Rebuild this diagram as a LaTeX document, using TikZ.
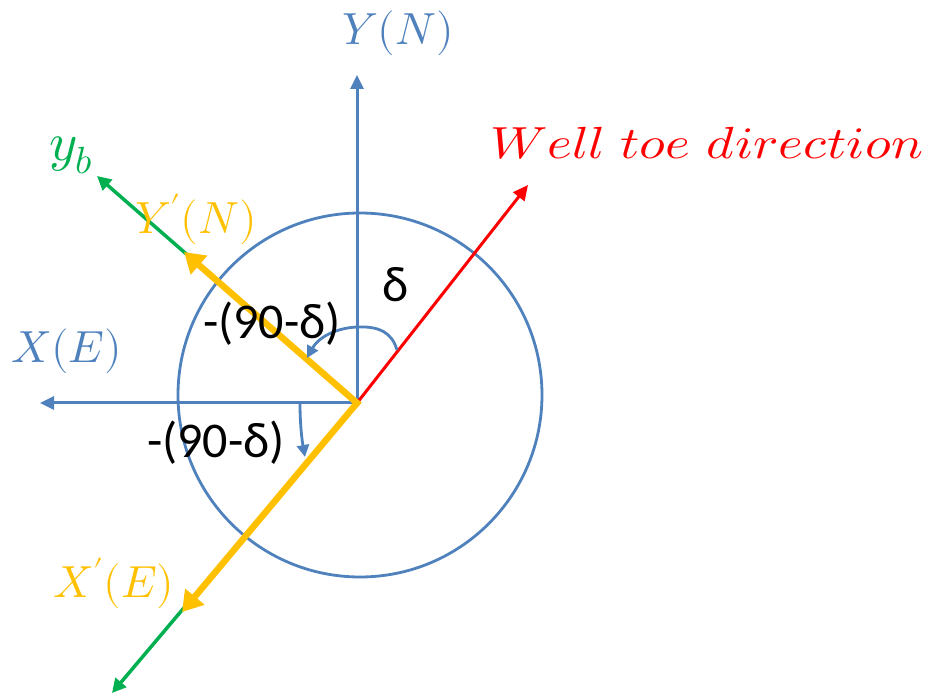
\documentclass[tikz,border=0pt]{standalone}
\usepackage{fontspec}
\usepackage{unicode-math}
\newfontfamily\calib{Carlito}
\usetikzlibrary{arrows.meta}
\definecolor{axblue}{RGB}{79,129,189}
\definecolor{axyel}{RGB}{255,192,0}
\definecolor{axgrn}{RGB}{0,176,80}

\begin{document}
\begin{tikzpicture}[
  x=1pt, y=-1pt,
  circ/.style={draw=axblue, line width=2.8pt},
  ax/.style={draw=axblue, line width=3pt, -{Triangle[length=14pt,width=13pt]}},
  toe/.style={draw=red, line width=3pt, -{Triangle[length=15pt,width=14pt]}},
  bax/.style={draw=axgrn, line width=3.5pt, -{Triangle[length=14pt,width=14pt]}},
  rax/.style={draw=axyel, line width=6.5pt, line cap=rect, -{Triangle[length=20pt,width=24pt]}},
  ang/.style={draw=axblue, line width=2.8pt, -{Triangle[length=12pt,width=12pt]}},
  mlab/.style={font=\fontsize{45}{48}\selectfont, inner sep=0pt},
  tlab/.style={font=\calib\fontsize{50}{54}\selectfont, inner sep=0pt},
]
\useasboundingbox (0,0) rectangle (930,700);

%% ── POINTS ───────────────────────────────────────────────────────────────────
\coordinate (O)     at (357,403);
\coordinate (C)     at (360,395);
\coordinate (Ntip)  at (357,75);
\coordinate (Etip)  at (40,403);
\coordinate (toeT)  at (528,185);
\coordinate (Yp)    at (184,252);
\coordinate (Xp)    at (182,612);
\coordinate (ybT)   at (97,176);
\coordinate (ybB)   at (112,693);
\coordinate (a1s)   at (397,350);
\coordinate (a1e)   at (307,358);
\coordinate (a2s)   at (300,403);
\coordinate (a2e)   at (305,457);

%% ── CIRCLE AND AXES ──────────────────────────────────────────────────────────
\draw[circ] (C) circle[radius=182pt];
\draw[ax] (O) -- (Ntip);
\draw[ax] (O) -- (Etip);
\draw[toe] (O) -- (toeT);
\draw[bax] (O) -- (ybT);
\draw[bax] (O) -- (ybB);
\draw[rax] (O) -- (Yp);
\draw[rax] (O) -- (Xp);

%% ── ANGLE ARCS ───────────────────────────────────────────────────────────────
\draw[ang] (a1s) .. controls (392,333) and (380,326) .. (357,327)
                 .. controls (335,328) and (318,338) .. (a1e);
\draw[ang] (a2s) .. controls (300,425) and (302,440) .. (a2e);

%% ── LABELS ───────────────────────────────────────────────────────────────────
\node[mlab, text=axblue] (lN)   at (398,33)  {$Y(N)$};
\node[mlab, text=axblue] (lE)   at (67,351)  {$X(E)$};
\node[mlab, text=red, xscale=1.18, transform shape] (lToe) at (707,143) {$Well\ toe\ direction$};
\node[mlab, text=axgrn, font=\fontsize{54}{58}\selectfont] (lyb) at (71,155) {$y_b$};
\node[mlab, text=axyel]  (lYp)  at (196,219) {$Y'(N)$};
\node[mlab, text=axyel]  (lXp)  at (114,583) {$X'(E)$};
\node[tlab] (ld)  at (396,285) {δ};
\node[tlab] (la1) at (272,324) {-(90-δ)};
\node[tlab] (la2) at (216,443) {-(90-δ)};
\end{tikzpicture}
\end{document}
